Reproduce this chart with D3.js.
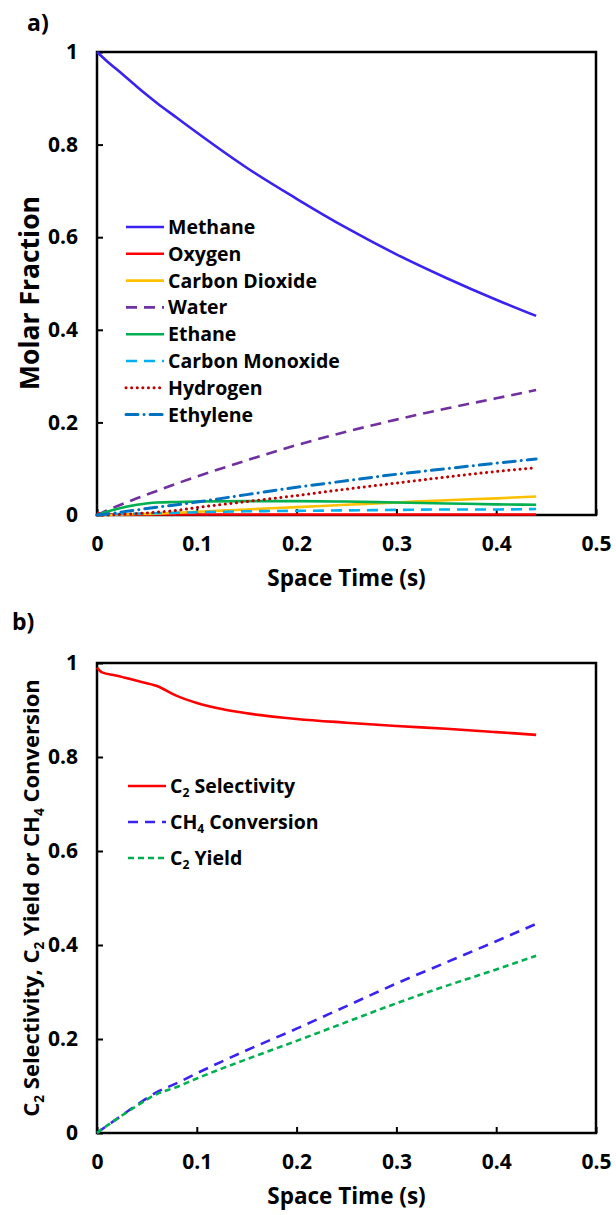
<!DOCTYPE html>
<html>
<head>
<meta charset="utf-8">
<script src="https://cdnjs.cloudflare.com/ajax/libs/d3/7.8.5/d3.min.js"></script>
<style>
  body { margin: 0; background: #fff; }
  text { font-family: "Open Sans", Lato, sans-serif; font-weight: 700; fill: #000; }
</style>
</head>
<body>
<svg></svg>
<script>
const svgWidth = 616;
const svgHeight = 1215;

// panel a: molar fractions vs space time
const timeA = [0, 0.01, 0.02, 0.04, 0.06, 0.08, 0.1, 0.15, 0.2, 0.25, 0.3, 0.35, 0.4, 0.44];
const methane = [1, 0.98, 0.962, 0.925, 0.89, 0.858, 0.826, 0.75, 0.683, 0.62, 0.563, 0.512, 0.465, 0.43];
const oxygen = [0.004, 0.002, 0.001, 0.001, 0.001, 0.001, 0.001, 0.001, 0.001, 0.001, 0.001, 0.001, 0.001, 0.001];
const carbonDioxide = [0, 0, 0.001, 0.002, 0.003, 0.005, 0.007, 0.012, 0.017, 0.022, 0.027, 0.032, 0.036, 0.04];
const water = [0, 0.01, 0.019, 0.036, 0.052, 0.068, 0.083, 0.118, 0.151, 0.18, 0.206, 0.23, 0.252, 0.27];
const ethane = [0, 0.007, 0.013, 0.022, 0.027, 0.028, 0.029, 0.03, 0.03, 0.029, 0.027, 0.025, 0.023, 0.022];
const carbonMonoxide = [0, 0.001, 0.002, 0.003, 0.004, 0.005, 0.006, 0.008, 0.009, 0.01, 0.011, 0.012, 0.012, 0.013];
const hydrogen = [0, 0, 0.001, 0.003, 0.006, 0.01, 0.016, 0.029, 0.042, 0.056, 0.069, 0.082, 0.094, 0.102];
const ethylene = [0, 0.002, 0.005, 0.011, 0.017, 0.022, 0.028, 0.044, 0.06, 0.074, 0.088, 0.1, 0.112, 0.121];

// panel b: selectivity, conversion, yield vs space time
const timeB = [0, 0.005, 0.02, 0.04, 0.06, 0.08, 0.1, 0.125, 0.15, 0.2, 0.25, 0.3, 0.35, 0.4, 0.44];
const c2Selectivity = [0.99, 0.98, 0.973, 0.962, 0.951, 0.93, 0.915, 0.902, 0.893, 0.881, 0.873, 0.866, 0.86, 0.853, 0.847];
const ch4Conversion = [0, 0.008, 0.03, 0.06, 0.087, 0.106, 0.127, 0.152, 0.176, 0.222, 0.27, 0.318, 0.363, 0.408, 0.445];
const c2Yield = [0, 0.008, 0.03, 0.058, 0.083, 0.098, 0.116, 0.137, 0.157, 0.196, 0.236, 0.276, 0.313, 0.348, 0.377];

const xTicks = [0, 0.1, 0.2, 0.3, 0.4, 0.5];
const yTicks = [0, 0.2, 0.4, 0.6, 0.8, 1];

const seriesA = [
  { name: "Methane", values: methane, color: "#3a22f2", dash: null },
  { name: "Oxygen", values: oxygen, color: "#ff0000", dash: null },
  { name: "Carbon Dioxide", values: carbonDioxide, color: "#ffc000", dash: null },
  { name: "Water", values: water, color: "#7030a0", dash: "11,7" },
  { name: "Ethane", values: ethane, color: "#00b050", dash: null },
  { name: "Carbon Monoxide", values: carbonMonoxide, color: "#00b0f0", dash: "11,7" },
  { name: "Hydrogen", values: hydrogen, color: "#c00000", dash: "0.1,5.5", cap: "round" },
  { name: "Ethylene", values: ethylene, color: "#0070c0", dash: "12,6,0.1,6", cap: "round" }
];

const seriesB = [
  { name: [["C"], ["2", true], [" Selectivity"]], values: c2Selectivity, color: "#ff0000", dash: null },
  { name: [["CH"], ["4", true], [" Conversion"]], values: ch4Conversion, color: "#3a22f2", dash: "10,7" },
  { name: [["C"], ["2", true], [" Yield"]], values: c2Yield, color: "#00b050", dash: "6,4" }
];

const left = 97, right = 596;

const svg = d3.select("svg")
  .attr("width", svgWidth)
  .attr("height", svgHeight);

// text with subscripts: parts = [[text, isSub], ...]
function richText(sel, parts, size) {
  let shifted = false;
  parts.forEach(p => {
    const sub = !!p[1];
    let dy = 0;
    if (sub && !shifted) dy = size * 0.22;
    if (!sub && shifted) dy = -size * 0.22;
    sel.append("tspan")
      .attr("font-size", sub ? size * 0.62 : size)
      .attr("dy", dy)
      .text(p[0]);
    shifted = sub;
  });
}

function panel(top, bottom, time, series, label, labelPos, yTitle, yTitleSize, yTitleY, legend) {
  const x = d3.scaleLinear().domain([0, 0.5]).range([left, right]);
  const y = d3.scaleLinear().domain([0, 1]).range([bottom, top]);
  const g = svg.append("g");

  g.append("rect")
    .attr("x", left).attr("y", top)
    .attr("width", right - left).attr("height", bottom - top)
    .attr("fill", "none").attr("stroke", "#000").attr("stroke-width", 2.5);

  const xAxis = g.append("g")
    .attr("transform", `translate(0,${bottom})`)
    .call(d3.axisBottom(x).tickValues(xTicks).tickSize(-6).tickPadding(21).tickFormat(d3.format("~g")));
  const yAxis = g.append("g")
    .attr("transform", `translate(${left},0)`)
    .call(d3.axisLeft(y).tickValues(yTicks).tickSize(-6).tickPadding(19).tickFormat(d3.format("~g")));
  [xAxis, yAxis].forEach(a => {
    a.select(".domain").remove();
    a.selectAll("line").attr("stroke", "#000").attr("stroke-width", 2);
    a.selectAll("text").attr("font-size", 21).attr("font-family", "'Open Sans', sans-serif").attr("font-weight", 700);
  });

  const line = d3.line()
    .x((d, i) => x(time[i]))
    .y(d => y(d))
    .curve(d3.curveMonotoneX);

  g.selectAll("path.series")
    .data(series)
    .enter()
    .append("path")
    .attr("class", "series")
    .attr("d", d => line(d.values))
    .attr("fill", "none")
    .attr("stroke", d => d.color)
    .attr("stroke-width", d => d.cap ? 3 : 2.6)
    .attr("stroke-linecap", d => d.cap || "butt")
    .attr("stroke-dasharray", d => d.dash);

  g.append("text")
    .attr("x", labelPos[0]).attr("y", labelPos[1])
    .attr("font-size", 23)
    .text(label);

  g.append("text")
    .attr("x", (right - left) / 2 + left)
    .attr("y", bottom + 71)
    .attr("text-anchor", "middle")
    .attr("font-size", 22.5)
    .text("Space Time (s)");

  const yt = g.append("text")
    .attr("transform", `translate(39,${yTitleY}) rotate(-90)`)
    .attr("text-anchor", "middle");
  richText(yt, yTitle, yTitleSize);

  const lg = g.selectAll("g.legend")
    .data(series)
    .enter()
    .append("g")
    .attr("class", "legend")
    .attr("transform", (d, i) => `translate(${legend.x},${legend.y + i * legend.step})`);

  lg.append("line")
    .attr("x1", 0).attr("x2", legend.len)
    .attr("stroke", d => d.color)
    .attr("stroke-width", d => d.cap ? 3 : 2.6)
    .attr("stroke-linecap", d => d.cap || "butt")
    .attr("stroke-dasharray", d => d.dash);

  lg.append("text")
    .attr("x", legend.len + 4)
    .attr("y", 7)
    .attr("font-size", 19.5)
    .each(function (d) {
      const t = d3.select(this);
      if (typeof d.name === "string") t.text(d.name);
      else richText(t, d.name, 19.5);
    });
}

panel(52, 515, timeA, seriesA, "a)", [27, 31], [["Molar Fraction"]], 26.5, 293,
  { x: 126, y: 227, step: 26.8, len: 38 });

panel(663, 1133, timeB, seriesB, "b)", [12, 630],
  [["C"], ["2", true], [" Selectivity, C"], ["2", true], [" Yield or CH"], ["4", true], [" Conversion"]], 22, 898,
  { x: 128, y: 786, step: 36, len: 38 });
</script>
</body>
</html>
